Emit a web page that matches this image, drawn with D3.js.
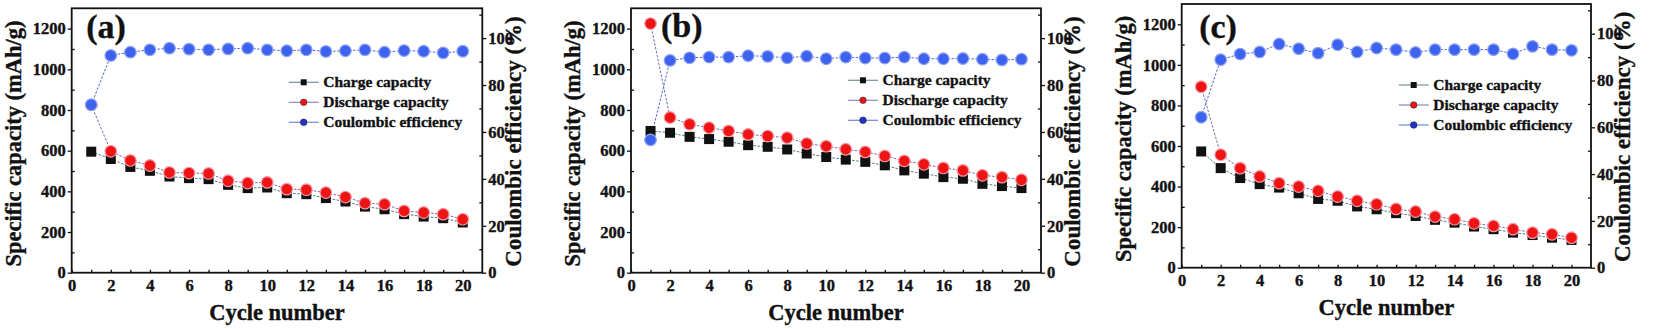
<!DOCTYPE html>
<html><head><meta charset="utf-8">
<script src="https://cdn.jsdelivr.net/npm/d3@7"></script>
<style>
body{margin:0;background:#fff}
svg{display:block}
text{font-family:"Liberation Serif","Times New Roman",serif;font-weight:bold;fill:#111;stroke:#111;stroke-width:0.35px}
</style></head><body>
<svg id="chart" width="1654" height="329"></svg>
<script>
const cycles = [1,2,3,4,5,6,7,8,9,10,11,12,13,14,15,16,17,18,19,20];

const chargeA    = [595,559,520,501,473,465,460,432,416,419,391,386,367,350,325,312,288,276,268,247];
const dischargeA = [825,597,552,527,493,490,488,452,441,444,411,408,394,372,342,337,304,296,288,263];
const ceA        = [71.6,92.6,94.0,95.0,95.7,95.3,95.0,95.4,95.7,95.0,94.6,95.0,94.3,94.6,95.0,94.0,94.7,94.4,93.7,94.4];

const chargeB    = [697,688,668,657,644,627,619,606,586,569,556,545,528,503,487,470,462,437,426,416];
const dischargeB = [1225,763,730,713,697,680,672,664,635,622,607,594,574,550,533,515,503,479,470,457];
const ceB        = [56.6,90.5,91.6,91.9,91.9,92.5,92.2,91.6,92.3,91.2,91.9,91.5,91.5,91.9,91.2,91.2,91.3,91.0,90.7,91.0];

const chargeC    = [573,491,442,412,395,367,339,330,302,288,269,255,236,222,203,190,173,161,148,137];
const dischargeC = [892,557,491,450,417,400,379,351,330,313,290,277,252,239,219,206,190,173,165,148];
const ceC        = [64.3,88.9,91.3,92.2,95.6,93.6,91.7,95.3,92.2,93.9,93.2,92.0,93.2,93.2,93.2,93.2,91.4,94.6,93.2,92.9];

const panelLabels = ["(a)","(b)","(c)"];
const legendLabels = ["Charge capacity","Discharge capacity","Coulombic efficiency"];
const xMajorTicks = [0,2,4,6,8,10,12,14,16,18,20];
const xMinorTicks = [1,3,5,7,9,11,13,15,17,19];
const yMajorTicks = [0,200,400,600,800,1000,1200];
const yMinorTicks = [100,300,500,700,900,1100];
const y2MajorTicks = [0,20,40,60,80,100];
const y2MinorTicks = [10,30,50,70,90,110];
const xTitle = "Cycle number";
const yTitle = "Specific capacity (mAh/g)";
const y2Title = "Coulombic efficiency (%)";

const panels = [
  {charge:chargeA, discharge:dischargeA, ce:ceA, label:panelLabels[0], left:71.7, right:482.3, top:8.3, bottom:272.7, lab:[14.5,30], leg:[74]},
  {charge:chargeB, discharge:dischargeB, ce:ceB, label:panelLabels[1], left:631, right:1041, top:8.3, bottom:272.7, lab:[30,29], leg:[72]},
  {charge:chargeC, discharge:dischargeC, ce:ceC, label:panelLabels[2], left:1181.7, right:1591, top:4, bottom:267.7, lab:[17.5,34], leg:[81]}
];

const svg = d3.select("#chart");
const col = {sq:"#111", red:"#ee1414", redEdge:"#f29aa8", blue:"#3d62ee", blueEdge:"#8fa3f5",
             chargeLine:"#4f7a86", dischargeLine:"#7a68a8", ceLine:"#5068d8"};

panels.forEach(p => {
  const W = p.right - p.left, H = p.bottom - p.top;
  const g = svg.append("g").attr("transform", `translate(${p.left},${p.top})`);
  const x = d3.scaleLinear().domain([0,21]).range([0,W]);
  const y = d3.scaleLinear().domain([0,1300]).range([H,0]);
  const y2 = d3.scaleLinear().domain([0,112.7]).range([H,0]);

  const styleAxis = sel => { sel.select(".domain").remove(); sel.selectAll("line").attr("stroke","#111").attr("stroke-width",1.3); sel.selectAll("text").attr("font-size",16.5).attr("font-family",null).attr("fill","#111"); };
  g.append("g").attr("transform",`translate(0,${H})`).call(d3.axisBottom(x).tickValues(xMajorTicks).tickSize(-3).tickPadding(7).tickFormat(d3.format("d"))).call(styleAxis);
  g.append("g").attr("transform",`translate(0,${H})`).call(d3.axisBottom(x).tickValues(xMinorTicks).tickSize(-3).tickFormat("")).call(styleAxis);
  g.append("g").call(d3.axisLeft(y).tickValues(yMajorTicks).tickSize(4).tickPadding(2).tickFormat(d3.format("d"))).call(styleAxis);
  g.append("g").call(d3.axisLeft(y).tickValues(yMinorTicks).tickSize(-3).tickFormat("")).call(styleAxis);
  g.append("g").attr("transform",`translate(${W},0)`).call(d3.axisRight(y2).tickValues(y2MajorTicks).tickSize(4).tickPadding(2).tickFormat(d3.format("d"))).call(styleAxis);
  g.append("g").attr("transform",`translate(${W},0)`).call(d3.axisRight(y2).tickValues(y2MinorTicks).tickSize(-3).tickFormat("")).call(styleAxis);

  g.append("rect").attr("width",W).attr("height",H).attr("fill","none").attr("stroke","#111").attr("stroke-width",1.8);

  const lineL = d3.line().x((d,i)=>x(cycles[i])).y(d=>y(d));
  const lineR = d3.line().x((d,i)=>x(cycles[i])).y(d=>y2(d));
  g.append("path").datum(p.charge).attr("d",lineL).attr("fill","none").attr("stroke",col.chargeLine).attr("stroke-width",1).attr("stroke-dasharray","2.5,1.5");
  g.append("path").datum(p.discharge).attr("d",lineL).attr("fill","none").attr("stroke",col.dischargeLine).attr("stroke-width",1).attr("stroke-dasharray","2.5,1.5");
  g.append("path").datum(p.ce).attr("d",lineR).attr("fill","none").attr("stroke",col.ceLine).attr("stroke-width",1).attr("stroke-dasharray","2.5,1.5");

  const s = 10;
  g.selectAll(".sq").data(p.charge).enter().append("rect")
    .attr("x",(d,i)=>x(cycles[i])-s/2).attr("y",d=>y(d)-s/2).attr("width",s).attr("height",s).attr("fill",col.sq);
  g.selectAll(".rc").data(p.discharge).enter().append("circle")
    .attr("cx",(d,i)=>x(cycles[i])).attr("cy",d=>y(d)).attr("r",5.8).attr("fill",col.red).attr("stroke",col.redEdge).attr("stroke-width",1.2);
  g.selectAll(".bc").data(p.ce).enter().append("circle")
    .attr("cx",(d,i)=>x(cycles[i])).attr("cy",d=>y2(d)).attr("r",5.8).attr("fill",col.blue).attr("stroke",col.blueEdge).attr("stroke-width",1.2);

  g.append("text").attr("x",p.lab[0]).attr("y",p.lab[1]).attr("font-size",34).text(p.label);

  const legColors = [col.chargeLine, col.dischargeLine, col.ceLine];
  legendLabels.forEach((t,i)=>{
    const ly = p.leg[0] + i*20;
    const lg = g.append("g").attr("transform",`translate(0,${ly})`);
    lg.append("line").attr("x1",217).attr("x2",247).attr("y1",0).attr("y2",0).attr("stroke",legColors[i]).attr("stroke-width",1.2).attr("opacity",0.8);
    if(i===0) lg.append("rect").attr("x",232-3).attr("y",-3).attr("width",6).attr("height",6).attr("fill",col.sq);
    else lg.append("circle").attr("cx",232).attr("cy",0).attr("r",3.3).attr("fill",i===1?col.red:"#2233cc").attr("stroke",i===1?"#333":"#223").attr("stroke-width",0.6);
    lg.append("text").attr("x",251.5).attr("y",0).attr("dy","0.32em").attr("font-size",15.5).text(t);
  });

  g.append("text").attr("x",W/2).attr("y",H+47).attr("text-anchor","middle").attr("font-size",22.5).text(xTitle);
  g.append("text").attr("transform",`translate(-51,${H/2+3}) rotate(-90)`).attr("text-anchor","middle").attr("font-size",22.5).text(yTitle);
  g.append("text").attr("transform",`translate(${W+39},${H/2+1}) rotate(-90)`).attr("text-anchor","middle").attr("font-size",23).text(y2Title);
});
</script>
</body></html>
